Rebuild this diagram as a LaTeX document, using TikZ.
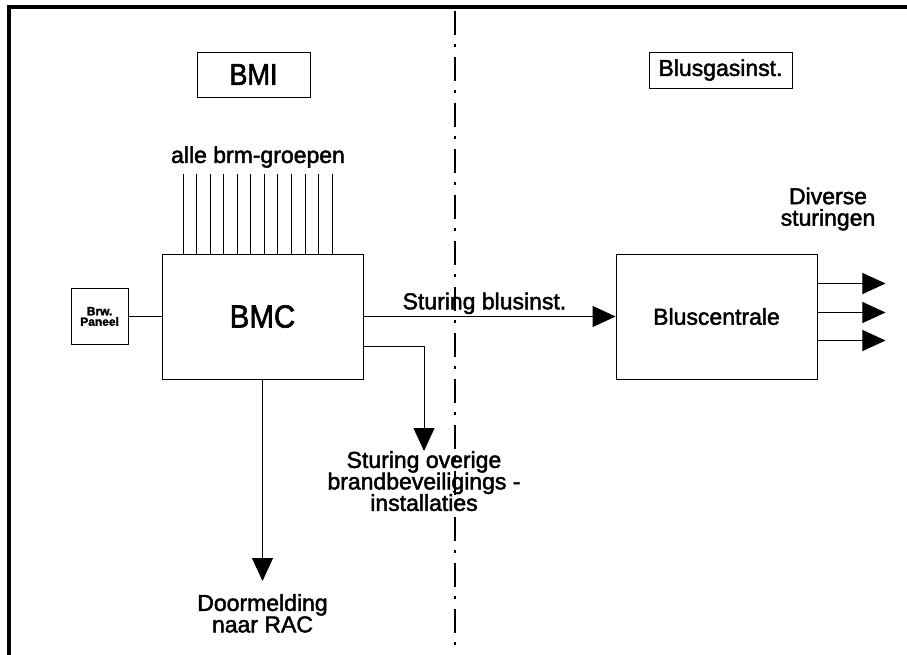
\documentclass[tikz,border=0pt]{standalone}
\usepackage{fontspec}
\setmainfont{Liberation Sans}[RawFeature={embolden=2}]
\usetikzlibrary{arrows.meta, positioning}

\begin{document}
\begin{tikzpicture}[
    x=1pt, y=-1pt,
    node distance=14pt,
    blok/.style={rectangle, draw, line width=0.9pt, inner sep=0pt, minimum width=201pt, minimum height=125pt},
    kop/.style={rectangle, draw, line width=0.9pt, inner sep=0pt},
    tekst/.style={inner sep=0pt, align=center, font=\fontsize{23}{21.5}\selectfont},
    lijn/.style={draw, line width=0.9pt},
    pijl/.style={draw, line width=0.9pt, -{Triangle[length=23pt, width=21pt]}}
]
    \useasboundingbox (0,0) rectangle (907,655);

    % kader en scheidingslijn
    \draw [line width=4pt] (907,7) -- (9,7) -- (9,655);
    \draw [line width=2pt, dash pattern=on 24pt off 9pt on 3pt off 10pt] (455,11) -- (455,655);

    \node [kop, minimum width=113pt, minimum height=45pt, font=\fontsize{30}{32}\selectfont] (bmi) at (253.5,74.5) {\scalebox{0.9}[1]{BMI}};
    \node [kop, minimum width=143pt, minimum height=36pt, font=\fontsize{23}{25}\selectfont] (bgi) at (720.5,70) {Blusgasinst.};

    \node [blok, font=\fontsize{32}{34}\selectfont] (bmc) at (262.5,316.5) {\scalebox{0.92}[1]{BMC}};
    \node [blok, font=\fontsize{23}{25}\selectfont] (blus) at (716.5,316.5) {Bluscentrale};
    \node [kop, minimum width=57pt, minimum height=56pt, align=center, font=\bfseries\fontsize{12}{10.5}\selectfont, left=33pt of bmc] (brw) {Brw.\\Paneel};

    % alle brm-groepen
    \foreach \i in {0,...,11}
        \coordinate (grp\i) at (183+13.55*\i,174);
    \foreach \i in {0,...,11}
        \draw [lijn] (grp\i) -- (grp\i |- bmc.north);
    \node [tekst] (alle) at (258,157) {alle brm-groepen};

    \draw [lijn] (brw) -- (bmc);
    \draw [pijl] (bmc) -- node [tekst, above=2pt, pos=0.48] {Sturing blusinst.} (blus);

    % overige installaties
    \node [tekst, anchor=north] (ovr) at (424,451) {Sturing overige\\brandbeveiligings -\\installaties};
    \draw [pijl] ([yshift=-30pt]bmc.east) -| (ovr.north);

    % doormelding
    \node [tekst, anchor=north] (rac) at (262.5,594) {Doormelding\\naar RAC};
    \draw [pijl, shorten >=13pt] (bmc.south) -- (rac.north);

    % diverse sturingen
    \foreach \dy [count=\i] in {33,4,-24} {
        \coordinate (uit\i) at ([xshift=68pt, yshift=\dy pt]blus.east);
        \draw [pijl] (blus.east |- uit\i) -- (uit\i);
    }
    \node [tekst] (div) at (828,209) {Diverse\\sturingen};
\end{tikzpicture}
\end{document}
